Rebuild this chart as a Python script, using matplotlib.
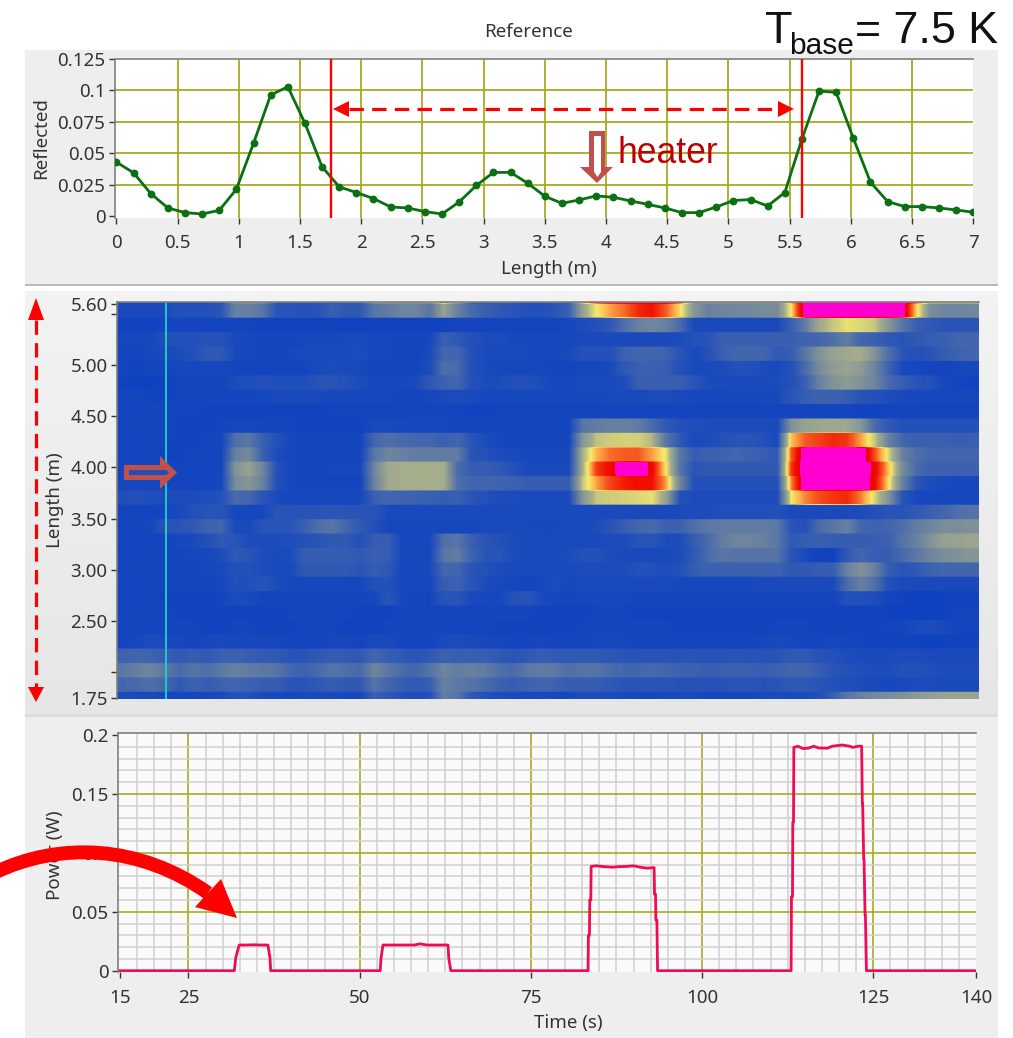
import numpy as np
import matplotlib
matplotlib.use("Agg")
import matplotlib.pyplot as plt
from matplotlib.colors import LinearSegmentedColormap
from matplotlib.patches import Polygon, PathPatch, Rectangle
from matplotlib.path import Path

W, H = 1013, 1038
plt.rcParams['font.family'] = ['Noto Sans', 'DejaVu Sans']

# ---------- top trace ----------
length_m = [0, .14, .28, .42, .56, .70, .84, .98, 1.12, 1.26, 1.40, 1.54, 1.68, 1.82, 1.96, 2.10, 2.24,
            2.38, 2.52, 2.66, 2.80, 2.94, 3.08, 3.22, 3.36, 3.50, 3.64, 3.78, 3.92, 4.06, 4.20, 4.34,
            4.48, 4.62, 4.76, 4.90, 5.04, 5.18, 5.32, 5.46, 5.60, 5.74, 5.88, 6.02, 6.16, 6.30, 6.44,
            6.58, 6.72, 6.86, 7.00]
reflected = [.0429, .0344, .0179, .0064, .0027, .0016, .0045, .0213, .0579, .0963, .1029, .0739, .0392,
             .0232, .0187, .0139, .0072, .0064, .0035, .0016, .0112, .0243, .0347, .0347, .0261, .0157,
             .0101, .0128, .0160, .0149, .0120, .0093, .0064, .0027, .0027, .0072, .0123, .0131, .0080,
             .0187, .0613, .0995, .0984, .0619, .0269, .0115, .0075, .0075, .0064, .0048, .0030]
section_marks = [1.75, 5.6]
top_xticks = [0, .5, 1, 1.5, 2, 2.5, 3, 3.5, 4, 4.5, 5, 5.5, 6, 6.5, 7]
top_xlabels = ['0', '0.5', '1', '1.5', '2', '2.5', '3', '3.5', '4', '4.5', '5', '5.5', '6', '6.5', '7']
top_yticks = [0, .025, .05, .075, .1, .125]
top_ylabels = ['0', '0.025', '0.05', '0.075', '0.1', '0.125']

# ---------- heat map rows, top (5.6 m) to bottom (1.75 m), 62 time columns ----------
rtp = [5,5,5,5,6,6,6,8,45,45, 45,12,12,12,12,12,12,12,48,48, 48,48,48,80,55,12,12,12,12,10, 10,12,15,70,95,110,110,110,110,110, 90,45,45,45,45,45,45,45,70,110, 110,110,110,110,110,110,110,85,70,70, 70,70]
r00 = [5,5,5,5,8,8,8,10,30,30, 25,10,10,8,10,15,12,12,25,28, 32,32,25,45,30,20,15,12,10,8, 8,10,15,45,62,72,78,88,92,80, 64,40,30,32,33,33,35,35,63,108, 110,110,110,110,110,110,108,66,36,32, 32,33]
r01 = [2,2,2,3,3,3,3,3,3,3, 2,2,2,2,2,2,2,2,2,2, 2,2,2,2,3,3,3,3,3,3, 3,3,4,6,8,12,22,30,33,30, 20,5,5,5,5,5,5,5,15,28, 48,55,60,58,55,40,25,15,12,10, 10,10]
r02 = [4,4,4,8,8,8,9,9,5,4, 3,3,3,4,4,4,5,5,4,4, 3,3,4,15,12,8,6,6,4,4, 4,4,4,5,5,5,5,5,5,5, 6,8,10,15,15,15,15,15,15,17, 18,22,28,18,15,12,10,12,14,15, 18,18]
r03 = [3,3,4,5,6,8,12,12,5,4, 3,3,4,5,5,5,5,6,4,4, 3,3,5,18,18,8,5,5,5,5, 4,4,5,8,8,8,16,18,18,16, 10,5,8,15,18,18,18,12,14,25, 38,45,48,50,38,22,10,8,10,14, 16,18]
r04 = [3,2,3,3,4,4,4,4,3,3, 3,3,3,3,5,6,5,5,3,3, 3,3,6,22,20,8,5,4,4,4, 4,3,3,4,4,5,12,15,16,14, 8,5,5,6,8,8,6,5,8,20, 35,42,46,42,32,16,5,4,3,3, 4,4]
r05 = [2,1,1,2,3,3,3,3,6,7, 8,7,7,7,10,10,8,6,4,4, 4,5,12,16,18,8,6,6,8,8, 6,4,4,5,5,5,6,15,15,15, 15,10,6,5,5,5,5,6,8,15, 30,38,42,38,32,20,14,10,8,4, 3,2]
r06 = [3,3,2,2,3,3,3,3,3,3, 4,5,5,5,5,4,4,4,4,4, 3,3,4,5,6,5,4,4,4,4, 4,4,4,4,4,5,5,5,6,6, 5,4,4,4,4,4,4,5,10,14, 16,16,14,10,8,6,5,4,4,4, 4,4]
r07 = [3,3,3,3,3,3,2,2,2,2, 2,2,2,2,2,3,3,3,3,3, 3,3,3,3,3,2,2,3,3,3, 3,3,3,3,3,3,3,3,3,3, 3,3,3,3,3,3,3,3,3,3, 3,3,3,2,2,3,3,3,3,3, 3,3]
r08 = [3,3,3,3,2,2,2,3,4,4, 3,3,3,2,2,2,2,2,5,5, 4,4,4,4,3,3,3,3,3,3, 3,3,3,25,28,30,30,28,20,12, 8,7,6,6,6,6,6,5,38,45, 47,48,47,40,20,12,8,8,8,8, 8,8]
r09 = [3,3,3,3,2,2,3,3,22,25, 15,8,4,3,3,3,3,3,18,22, 20,18,18,15,18,10,6,4,3,3, 3,3,3,40,54,56,57,57,52,25, 12,5,6,8,10,10,8,5,68,80, 84,88,86,72,55,30,18,15,15,15, 14,15]
r10 = [3,3,3,2,2,3,3,3,30,34, 15,6,4,3,3,3,3,3,25,32, 30,28,28,28,28,10,8,6,5,4, 4,4,4,50,70,78,80,80,72,60, 25,14,16,16,18,16,14,12,80,110, 110,110,110,110,82,58,30,22,18,18, 18,18]
r11 = [3,3,3,3,3,3,3,3,38,45, 32,8,4,3,3,4,4,4,32,48, 50,50,50,50,20,14,14,12,8,5, 5,5,5,50,85,95,110,110,95,62, 25,10,12,12,12,12,12,12,85,110, 110,110,110,110,97,68,35,20,16,16, 16,16]
r12 = [4,4,4,3,3,3,3,4,35,40, 30,8,4,3,3,3,3,3,30,48, 50,50,50,50,22,18,18,17,16,14, 14,14,14,55,72,84,90,93,92,72, 32,8,8,8,8,8,8,8,75,110, 110,110,110,110,95,64,30,10,6,5, 4,4]
r13 = [7,8,7,6,6,6,7,8,20,18, 10,5,4,4,4,4,4,4,15,18, 17,16,15,14,15,10,8,6,6,5, 5,5,5,40,55,56,57,58,60,45, 8,6,6,6,6,6,6,6,62,75, 82,86,88,76,58,38,10,4,4,4, 4,4]
r14 = [3,3,3,3,5,8,10,10,4,4, 4,10,10,10,10,11,10,10,10,5, 5,5,5,5,5,5,5,5,5,5, 5,5,5,5,5,5,5,5,5,5, 5,6,6,7,7,7,7,8,5,5, 5,5,5,6,8,10,10,12,15,18, 22,24]
r15 = [3,3,4,10,10,12,16,18,5,5, 10,10,10,15,22,25,18,12,8,4, 4,4,4,4,4,4,5,5,5,5, 4,4,5,5,6,10,14,18,20,15, 16,22,26,28,28,28,28,26,10,8, 20,25,30,18,16,18,22,28,32,36, 36,38]
r16 = [3,3,3,3,4,5,8,12,10,6, 6,6,7,8,10,12,12,8,14,14, 4,4,4,22,25,15,10,8,6,5, 5,5,5,5,5,6,6,10,10,6, 6,14,20,28,32,32,30,26,12,14, 15,14,14,14,14,16,24,30,38,45, 45,47]
r17 = [3,3,3,3,3,4,4,6,12,10, 6,5,6,14,14,14,14,12,15,14, 4,4,4,25,28,16,10,10,6,5, 5,5,6,8,8,6,5,5,5,5, 6,12,20,25,24,24,24,24,10,5, 2,2,12,18,14,14,20,26,32,36, 38,40]
r18 = [3,3,3,3,3,3,4,5,8,8, 6,5,5,12,12,12,12,10,14,12, 4,4,4,18,18,10,8,6,5,5, 5,5,5,6,6,6,6,8,8,6, 8,14,16,16,16,16,16,16,12,12, 14,14,30,38,30,14,10,12,16,18, 18,18]
r19 = [3,3,3,3,3,3,3,4,7,7, 10,6,4,4,4,4,4,4,8,8, 4,4,4,14,16,10,6,4,4,3, 4,6,4,5,5,5,5,5,5,5, 4,4,4,4,4,4,5,5,5,5, 5,5,20,30,22,8,5,5,5,5, 5,5]
r20 = [3,3,3,2,2,2,2,3,6,5, 3,3,3,3,3,3,3,3,4,10, 4,3,3,10,10,5,4,4,8,10, 5,4,3,4,4,4,4,3,3,3, 3,3,3,3,3,3,3,3,3,3, 3,3,8,8,6,3,2,1,1,2, 2,2]
r21 = [3,3,3,3,2,2,2,2,2,2, 2,2,3,3,3,3,3,2,2,2, 3,3,3,3,3,3,3,3,3,3, 2,2,2,2,3,3,3,2,2,2, 2,2,2,2,2,2,2,2,2,2, 2,2,2,2,2,2,1,1,1,2, 3,3]
r22 = [3,3,3,3,3,3,2,2,3,3, 2,2,2,3,3,3,2,2,2,3, 3,3,3,3,3,3,3,2,2,2, 2,2,2,3,3,3,3,3,3,3, 2,2,2,2,2,2,2,3,3,3, 2,2,2,2,2,3,3,5,6,5, 3,3]
r23 = [3,4,6,5,4,3,4,5,4,4, 4,4,3,3,3,4,4,3,5,5, 3,3,3,5,6,5,4,4,3,3, 4,3,3,3,4,4,4,3,3,3, 3,3,3,3,3,3,4,5,4,3, 3,4,3,3,2,2,2,2,1,2, 2,2]
r24 = [16,18,16,14,12,14,12,15,16,14, 13,12,10,10,12,14,12,12,18,14, 12,10,12,16,14,15,14,12,10,12, 14,13,12,12,12,11,10,10,10,10, 9,10,9,9,10,10,9,10,12,12, 9,8,6,5,5,5,6,6,5,5, 5,5]
r25 = [26,30,32,26,20,24,22,26,30,28, 26,24,18,16,20,24,22,20,32,26, 20,18,24,32,28,30,28,22,20,26, 28,26,22,24,24,20,18,18,20,18, 16,16,14,15,16,15,14,16,18,18, 14,10,8,7,6,6,8,8,7,6, 6,6]
r26 = [18,20,22,18,12,16,14,16,18,16, 14,14,10,10,12,14,12,12,24,18, 14,12,14,30,26,24,20,16,14,16, 18,16,14,14,14,12,10,10,10,10, 9,9,9,9,10,10,9,10,12,12, 10,8,7,6,5,4,5,6,6,5, 5,5]
r27 = [6,5,5,4,4,4,4,5,8,8, 5,5,4,5,5,5,4,4,15,12, 8,6,8,28,24,12,8,6,5,4, 5,4,4,6,6,6,5,4,4,5, 5,5,4,4,4,4,5,6,5,5, 8,14,25,30,34,36,38,42,44,46, 46,46]
heat_rows = [rtp, r00, r01, r02, r03, r04, r05, r06, r07, r08, r09, r10, r11, r12, r13,
             r14, r15, r16, r17, r18, r19, r20, r21, r22, r23, r24, r25, r26, r27]
heat_yticks = [5.6, 5.5, 5, 4.5, 4, 3.5, 3, 2.5, 2, 1.75]
heat_ylabels = ['5.60', '', '5.00', '4.50', '4.00', '3.50', '3.00', '2.50', '', '1.75']
cursor_time = 22.1

# ---------- heater power ----------
time_s = [15, 31.7, 31.9, 32.4, 33.5, 34.5, 35.5, 36.6, 36.9, 37.0, 53.0, 53.1, 53.4, 56, 58, 58.8, 59.8, 62.9, 63.0, 63.3,
          83.35, 83.4, 83.55, 83.6, 83.75, 83.8, 84.5, 85.3, 86, 87, 87.5, 89, 90, 91, 92, 93, 93.05, 93.2, 93.25, 93.4, 93.45, 93.5,
          113.0, 113.05, 113.2, 113.25, 113.35, 113.4, 114, 114.7, 115.5, 116.3, 117, 118.3, 119, 120.5, 121.5, 122, 122.8, 123.3,
          123.4, 123.45, 123.6, 123.65, 123.8, 123.85, 124.0, 140]
power_w = [0, 0, .011, .0218, .0218, .0220, .0218, .0218, .011, 0, 0, .010, .0218, .0218, .0218, .0228, .0218, .0218, .011, 0,
           0, .030, .030, .060, .060, .0885, .089, .0885, .0882, .0878, .0882, .0885, .089, .0878, .087, .0875, .065, .065, .043, .043, .021, 0,
           0, .0627, .0627, .126, .126, .1895, .1905, .1885, .1888, .1905, .189, .1888, .1905, .1915, .1905, .1895, .1905, .1905,
           .142, .142, .0946, .0946, .047, .047, 0, 0]
bot_xticks = [15, 25, 50, 75, 100, 125, 140]
bot_yticks = [0, .05, .1, .15, .2]
bot_ylabels = ['0', '0.05', '0.1', '0.15', '0.2']
bot_xminor = [15 + 2.5 * k for k in range(51)]
bot_yminor = [k / 100 for k in range(21)]

OLIVE = '#aaa922'
TXT = '#333333'
FS = 13.5


def axes_px(left, right, top, bottom, **kw):
    return fig.add_axes([left / W, 1 - bottom / H, (right - left) / W, (bottom - top) / H], **kw)


def hide_edge_grid(ax):
    for axis in (ax.xaxis, ax.yaxis):
        ticks = axis.get_major_ticks()
        ticks[0].gridline.set_visible(False)
        ticks[-1].gridline.set_visible(False)


fig = plt.figure(figsize=(W / 100, H / 100), dpi=100, facecolor='white')

# background panels
bg = fig.add_axes([0, 0, 1, 1], zorder=0)
bg.set_xlim(0, W)
bg.set_ylim(H, 0)
bg.axis('off')
bg.add_patch(Rectangle((25, 49.5), 973, 235.5, fc='#eeeeee', ec='none'))
bg.add_patch(Rectangle((25, 284), 973, 2, fc='#b9b9b9', ec='none'))
bg.imshow(np.linspace(0, 1, 64)[:, None], extent=[25, 998, 714, 291], aspect='auto', zorder=1,
          cmap=LinearSegmentedColormap.from_list('p', ['#f3f3f3', '#e6e6e6']))
bg.set_xlim(0, W)
bg.set_ylim(H, 0)
bg.add_patch(Rectangle((25, 716), 973, 322, fc='#eeeeee', ec='none'))
bg.add_patch(Rectangle((25, 714), 973, 2.5, fc='#dddddd', ec='none'))


def style(ax):
    for s in ('right', 'bottom'):
        ax.spines[s].set_visible(False)
    for s in ('top', 'left'):
        ax.spines[s].set_color('#808080')
        ax.spines[s].set_linewidth(1.2)
    ax.tick_params(axis='both', which='major', length=4, width=1, color='#333333',
                   labelsize=FS, labelcolor=TXT, pad=3)
    ax.set_axisbelow(True)


# top trace
ax1 = axes_px(115.2, 973.3, 59, 217.7, zorder=2)
ax1.set_xlim(-0.01, 7)
ax1.set_ylim(-0.00135, 0.125)
ax1.plot(length_m, reflected, color='#0b7012', lw=2, marker='o', ms=4.6, zorder=3)
for m in section_marks:
    ax1.axvline(m, color='#ff0000', lw=1.7, zorder=4)
ax1.set_xticks(top_xticks, top_xlabels)
ax1.set_yticks(top_yticks, top_ylabels)
ax1.grid(True, color=OLIVE, lw=1.3)
style(ax1)
hide_edge_grid(ax1)
ax1.tick_params(axis='x', pad=8)
ax1.set_title('Reference', fontsize=FS, color=TXT, pad=15.5)
ax1.title.set_position(((528 - 115.2) / (973.3 - 115.2), 1))
ax1.set_xlabel('Length (m)', fontsize=FS, color=TXT)
ax1.set_ylabel('Reflected', fontsize=FS, color=TXT)
ax1.xaxis.set_label_coords(549 / W, 1 - 269 / H, transform=fig.transFigure)
ax1.yaxis.set_label_coords(41 / W, 1 - 138 / H, transform=fig.transFigure)
ax1.xaxis.label.set_va('center')
ax1.yaxis.label.set_va('center')

# heat map
ax2 = axes_px(117.3, 978.7, 301.7, 699, zorder=2)
cmap = LinearSegmentedColormap.from_list('lv', [
    (0.00, '#0b3fc2'), (0.50, '#a6ad8b'), (0.62, '#f6ea6c'), (0.70, '#fdb14c'),
    (0.80, '#f65a22'), (0.92, '#f01000'), (1.00, '#ee0000')], N=512)
cmap.set_over('#ff00d0')
heat = np.array(heat_rows, dtype=float)
row_repeat = [2] + [12] * 27 + [6]
ax2.imshow(np.repeat(heat, row_repeat, axis=0), extent=[15, 140, 1.738, 5.618], aspect='auto',
           cmap=cmap, vmin=0, vmax=100, interpolation='bilinear', interpolation_stage='data')
ax2.axvline(cursor_time, color='#1ad6c8', lw=1.3)
ax2.set_xticks([])
ax2.set_yticks(heat_yticks, heat_ylabels)
style(ax2)
ax2.set_ylabel('Length (m)', fontsize=FS, color=TXT)
ax2.yaxis.set_label_coords(55 / W, 1 - 500 / H, transform=fig.transFigure)
ax2.yaxis.label.set_va('center')

# power
ax3 = axes_px(118.3, 976, 733, 972.3, zorder=2, facecolor='#fafafa')
ax3.set_xlim(14.75, 140)
ax3.set_ylim(-0.00135, 0.2017)
ax3.set_xticks(bot_xticks)
ax3.set_yticks(bot_yticks, bot_ylabels)
ax3.set_xticks(bot_xminor, minor=True)
ax3.set_yticks(bot_yminor, minor=True)
ax3.grid(True, which='minor', color='#cfcfcf', lw=1.1)
ax3.grid(True, which='major', color=OLIVE, lw=1.2)
ax3.tick_params(which='minor', length=0)
ax3.plot(time_s, power_w, color='#f00a5a', lw=2, zorder=3)
style(ax3)
hide_edge_grid(ax3)
ax3.tick_params(axis='x', pad=8)
ax3.set_xlabel('Time (s)', fontsize=FS, color=TXT)
ax3.set_ylabel('Power (W)', fontsize=FS, color=TXT)
ax3.xaxis.set_label_coords(568 / W, 1 - 1023 / H, transform=fig.transFigure)
ax3.yaxis.set_label_coords(55 / W, 1 - 855 / H, transform=fig.transFigure)
ax3.xaxis.label.set_va('center')
ax3.yaxis.label.set_va('center')

# overlay annotations in pixel coordinates
ov = fig.add_axes([0, 0, 1, 1], zorder=10)
ov.set_xlim(0, W)
ov.set_ylim(H, 0)
ov.axis('off')
ov.patch.set_alpha(0)

RED = '#ff0000'
BROWN = '#c0504d'
# horizontal span arrow
ov.plot([349, 778], [109, 109], color=RED, lw=2.3, dashes=(4.5, 2.6))
ov.add_patch(Polygon([(333, 109), (349, 101), (349, 117)], fc=RED, ec='none'))
ov.add_patch(Polygon([(794, 109), (778, 101), (778, 117)], fc=RED, ec='none'))
# vertical span arrow
ov.plot([36, 36], [320, 687], color=RED, lw=2.3, dashes=(4.5, 2.6))
ov.add_patch(Polygon([(36, 298), (28, 320), (44, 320)], fc=RED, ec='none'))
ov.add_patch(Polygon([(36, 702), (28, 687), (44, 687)], fc=RED, ec='none'))
# heater arrow
ov.add_patch(Polygon([(589, 131), (605, 131), (605, 167), (613, 167), (597, 183), (580, 167), (589, 167)],
                     fc=BROWN, ec='none'))
ov.add_patch(Polygon([(594, 136), (601, 136), (601, 172), (597.5, 177), (594, 172)], fc='white', ec='none'))
ov.text(617, 163, 'heater', fontsize=25.6, color='#c00000', family='Liberation Sans', va='baseline')
# heat-map arrow
ov.add_patch(Polygon([(124, 465), (160, 465), (160, 456), (177, 472.5), (160, 489), (160, 480), (124, 480)],
                     fc=BROWN, ec='none'))
ov.add_patch(Polygon([(129, 470), (166, 470), (169, 472.5), (166, 475), (129, 475)], fc='#1f4fb8', ec='none'))
# big curved arrow
curve = Path([(-6, 873), (60, 841), (140, 845), (208, 893)],
             [Path.MOVETO, Path.CURVE4, Path.CURVE4, Path.CURVE4])
ov.add_patch(PathPatch(curve, fc='none', ec=RED, lw=10, capstyle='butt'))
ov.add_patch(Polygon([(237, 918), (221, 879), (195, 907)], fc=RED, ec='none'))
# base temperature
ov.text(765, 43, 'T', fontsize=32.4, color='#111111', family='Liberation Sans', va='baseline')
ov.text(789, 54.5, 'base', fontsize=21.5, color='#111111', family='Liberation Sans', va='baseline')
ov.text(855, 43, '= 7.5 K', fontsize=32.2, color='#111111', family='Liberation Sans', va='baseline')

fig.savefig('out.png', dpi=100)
